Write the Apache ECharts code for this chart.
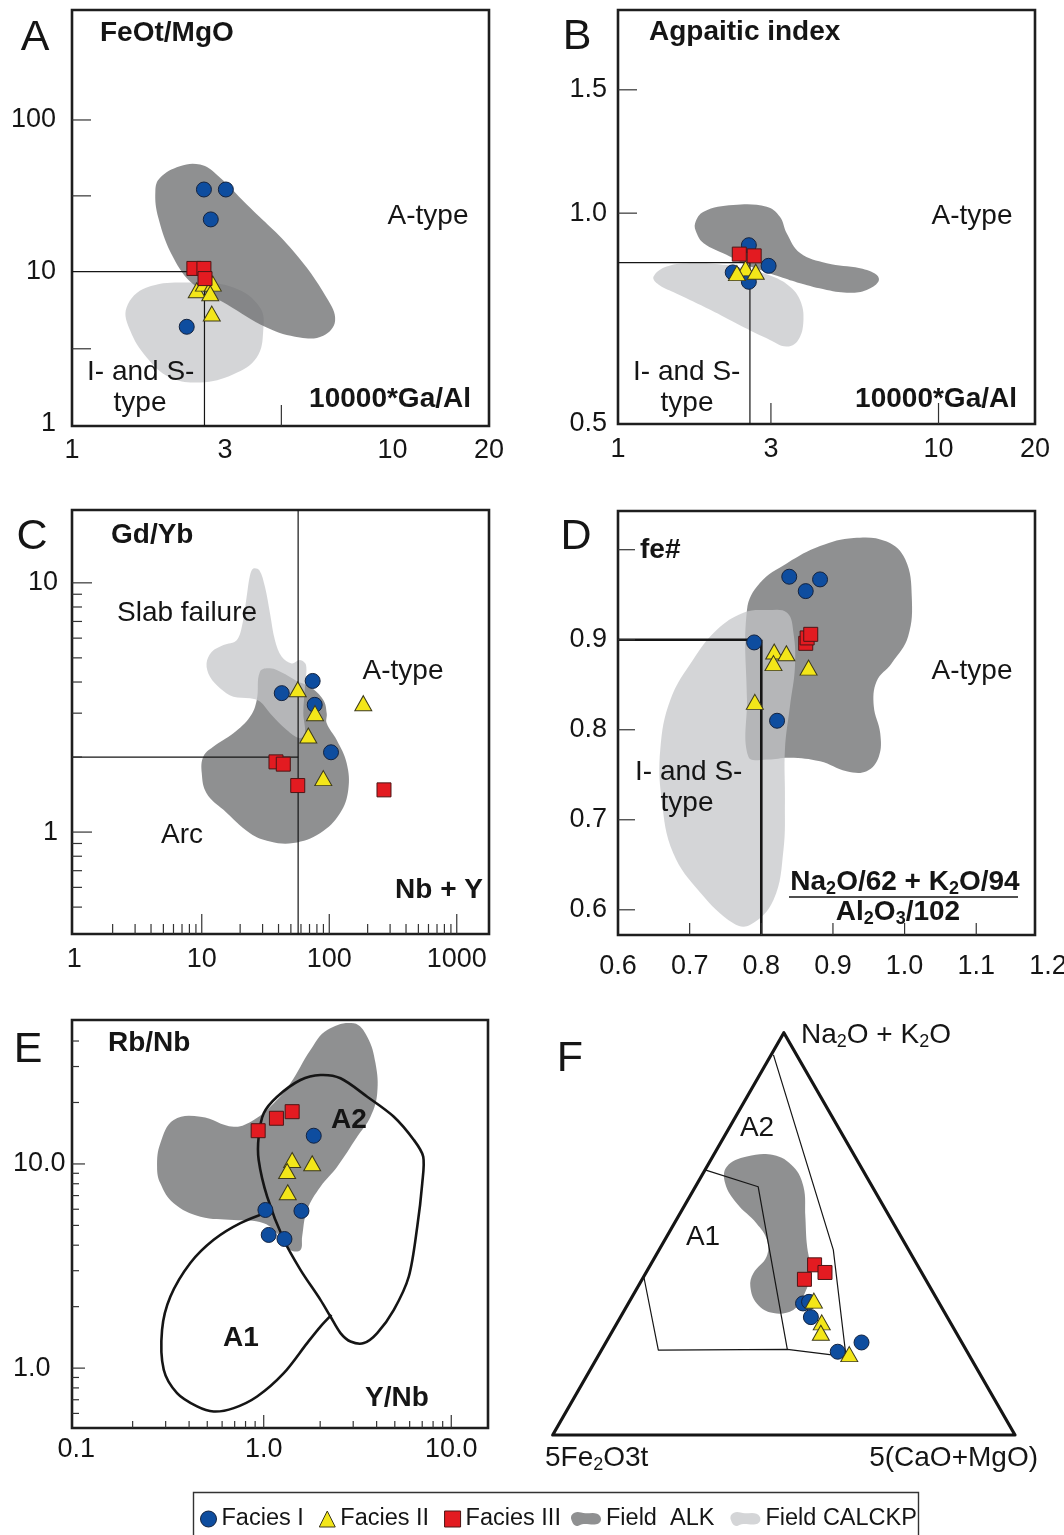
<!DOCTYPE html>
<html>
<head>
<meta charset="utf-8">
<title>A-type granite discrimination diagrams</title>
<script src="https://cdn.jsdelivr.net/npm/echarts@6.0.0/dist/echarts.min.js"></script>
<style>
  html, body { margin: 0; padding: 0; background: #ffffff; }
  #chart { width: 1064px; height: 1535px; }
</style>
</head>
<body>
<div id="chart"></div>
<script>
const FONT = '"Liberation Sans", Arial, Helvetica, sans-serif';
const INK = '#151515';
const DARK = 'rgba(108,109,111,0.76)';
const LIGHT = 'rgba(196,197,200,0.72)';

// ---------- A : FeOt/MgO vs 10000*Ga/Al ----------
const A_facies1 = [[2.58, 34.8], [3.02, 34.8], [2.71, 22.1], [2.28, 4.33]];
const A_facies2 = [[2.45, 7.53], [2.58, 8.34], [2.75, 8.34], [2.70, 7.2], [2.73, 5.29]];
const A_facies3 = [[2.40, 10.5], [2.58, 10.5], [2.60, 9.0]];
const A_alk = [[1.88, 41.5], [2.17, 49.6], [2.51, 50.8], [2.83, 43.6], [3.51, 27.7], [4.90, 13.7], [6.23, 6.74], [6.62, 4.74], [6.08, 3.78], [5.14, 3.68], [4.05, 4.28], [3.04, 6.09], [2.39, 8.25], [2.07, 12.4], [1.86, 22.6], [1.82, 34.0]];
const A_calc = [[1.48, 5.8], [1.71, 7.85], [2.39, 8.47], [3.19, 7.85], [3.86, 5.8], [3.95, 4.07], [3.77, 2.72], [3.19, 2.11], [2.51, 1.86], [2.02, 2.01], [1.71, 2.72], [1.52, 4.07]];
const A_limitH = [[1, 10], [2.59, 10]];
const A_limitV = [[2.59, 10], [2.59, 0.96]];
const A_xTicks = [4.5];
const A_yTicks = [3.1, 31.6, 100];
const A_xLabels = [1, 3, 10, 20];
const A_yLabels = [1, 10, 100];

// ---------- B : Agpaitic index vs 10000*Ga/Al ----------
const B_facies1 = [[2.56, 0.900], [2.95, 0.841], [2.28, 0.823], [2.56, 0.798]];
const B_facies2 = [[2.50, 0.834], [2.35, 0.821], [2.69, 0.825]];
const B_facies3 = [[2.39, 0.874], [2.66, 0.869]];
const B_alk = [[1.74, 0.967], [1.85, 1.005], [2.29, 1.027], [2.91, 1.021], [3.20, 0.988], [3.36, 0.936], [3.70, 0.877], [4.48, 0.848], [5.69, 0.834], [6.42, 0.816], [6.49, 0.798], [5.97, 0.777], [5.30, 0.770], [4.48, 0.777], [3.70, 0.794], [3.20, 0.811], [2.77, 0.830], [2.52, 0.843], [2.18, 0.872], [1.85, 0.906], [1.76, 0.936]];
const B_calc = [[1.29, 0.811], [1.42, 0.839], [1.72, 0.848], [2.18, 0.843], [2.58, 0.830], [3.05, 0.811], [3.44, 0.785], [3.70, 0.751], [3.79, 0.704], [3.65, 0.659], [3.36, 0.645], [2.91, 0.663], [2.40, 0.692], [1.94, 0.728], [1.52, 0.768], [1.34, 0.790]];
const B_limitH = [[1, 0.85], [2.58, 0.85]];
const B_limitV = [[2.58, 0.85], [2.58, 0.5]];
const B_xTicks = [3, 10];
const B_yTicks = [1.0, 1.5];
const B_xLabels = [1, 3, 10, 20];
const B_yLabels = [0.5, 1.0, 1.5];

// ---------- C : Gd/Yb vs Nb + Y ----------
const C_facies1 = [[42.4, 3.61], [74.1, 4.04], [76.9, 3.24], [103.2, 2.09]];
const C_facies2 = [[56.6, 3.74], [77.3, 3.00], [68.5, 2.44], [89.8, 1.646], [184.9, 3.29]];
const C_facies3 = [[38.2, 1.913], [43.6, 1.873], [56.6, 1.537], [268.7, 1.477]];
const C_alk = [[28.6, 4.40], [34.3, 4.54], [43.6, 4.34], [57.2, 4.01], [70.7, 3.83], [89.8, 3.39], [95.5, 3.00], [95.5, 2.73], [114.4, 2.34], [137, 1.89], [141, 1.477], [121.4, 1.19], [84.6, 0.99], [52.2, 0.904], [34.3, 0.917], [23.9, 0.99], [14.8, 1.228], [10.9, 1.433], [10.0, 1.724], [10.3, 2.01], [12.3, 2.20], [17.7, 2.49], [23.9, 2.90], [27.0, 3.39]];
const C_calc = [[25.4, 11.42], [28.3, 11.24], [31.3, 9.64], [34.3, 7.54], [37.5, 5.89], [42.4, 5.05], [50.7, 4.75], [58.9, 4.90], [65.7, 4.68], [64.5, 3.83], [62.6, 3.00], [64.5, 2.49], [58.9, 2.38], [46.4, 2.57], [34.3, 3.00], [28.6, 3.34], [23.9, 3.44], [17.7, 3.49], [13.9, 3.78], [11.6, 4.20], [10.9, 4.75], [12.0, 5.29], [14.8, 5.63], [18.8, 5.89], [20.9, 6.88], [22.5, 8.79], [23.9, 10.73]];
const C_limitV = [[57, 0.39], [57, 19.6]];
const C_limitH = [[0.96, 2.0], [57, 2.0]];
const C_xMajor = [10, 100, 1000];
const C_xMinor = [2, 3, 4, 5, 6, 7, 8, 9, 20, 30, 40, 50, 60, 70, 80, 90, 200, 300, 400, 500, 600, 700, 800, 900];
const C_yMajor = [1, 10];
const C_yMinor = [0.5, 0.6, 0.7, 0.8, 0.9, 2, 3, 4, 5, 6, 7, 8, 9];
const C_xLabels = [1, 10, 100, 1000];
const C_yLabels = [1, 10];

// ---------- D : fe# vs agpaitic ratio ----------
const D_facies1 = [[0.839, 0.970], [0.862, 0.954], [0.882, 0.967], [0.790, 0.897], [0.822, 0.810]];
const D_facies2 = [[0.818, 0.887], [0.835, 0.885], [0.817, 0.874], [0.866, 0.869], [0.791, 0.831]];
const D_facies3 = [[0.862, 0.896], [0.864, 0.902], [0.869, 0.906]];
const D_alk = [[0.780, 0.933], [0.798, 0.963], [0.836, 0.985], [0.882, 1.004], [0.929, 1.013], [0.975, 1.009], [1.001, 0.989], [1.010, 0.948], [1.005, 0.904], [0.982, 0.874], [0.961, 0.854], [0.957, 0.826], [0.966, 0.796], [0.964, 0.770], [0.947, 0.754], [0.919, 0.754], [0.882, 0.765], [0.840, 0.769], [0.808, 0.767], [0.782, 0.770], [0.780, 0.833]];
const D_calc = [[0.775, 0.930], [0.808, 0.933], [0.836, 0.930], [0.845, 0.907], [0.847, 0.870], [0.840, 0.826], [0.833, 0.778], [0.833, 0.722], [0.831, 0.667], [0.817, 0.611], [0.784, 0.583], [0.761, 0.585], [0.715, 0.619], [0.677, 0.663], [0.661, 0.722], [0.659, 0.778], [0.673, 0.833], [0.705, 0.878], [0.738, 0.911]];
const D_limitH = [[0.6, 0.9], [0.8, 0.9]];
const D_limitV = [[0.8, 0.9], [0.8, 0.572]];
const D_xTicks = [0.7, 0.8, 0.9, 1.0, 1.1];
const D_yTicks = [0.6, 0.7, 0.8, 0.9, 1.0];
const D_xLabels = [0.6, 0.7, 0.8, 0.9, 1.0, 1.1, 1.2];
const D_yLabels = [0.6, 0.7, 0.8, 0.9];

// ---------- E : Rb/Nb vs Y/Nb ----------
const E_facies1 = [[1.848, 13.75], [1.021, 5.95], [1.589, 5.89], [1.063, 4.49], [1.290, 4.29]];
const E_facies2 = [[1.418, 10.46], [1.333, 9.24], [1.813, 10.08], [1.343, 7.27]];
const E_facies3 = [[0.934, 14.55], [1.169, 16.74], [1.418, 18.03]];
const E_alk = [[0.270, 9.70], [0.281, 12.63], [0.331, 16.42], [0.460, 17.04], [0.692, 15.22], [0.884, 16.42], [1.131, 19.82], [1.388, 24.83], [1.775, 36.14], [2.179, 45.28], [3.021, 48.84], [3.563, 42.0], [3.946, 31.1], [4.029, 22.18], [3.710, 17.04], [3.150, 13.60], [2.465, 9.70], [2.007, 7.74], [1.704, 5.95], [1.603, 4.41], [1.570, 3.79], [1.388, 3.79], [1.228, 4.41], [1.000, 5.13], [0.692, 5.32], [0.460, 5.52], [0.331, 6.42], [0.281, 8.04]];
const E_A2 = [[0.940, 13.60], [1.0, 17.71], [1.179, 21.35], [1.570, 25.77], [2.007, 27.27], [2.567, 26.28], [3.563, 21.35], [4.941, 17.04], [6.318, 13.11], [7.089, 10.86], [7.003, 8.04], [6.587, 4.93], [5.938, 2.81], [4.941, 1.93], [4.029, 1.484], [3.418, 1.326], [2.902, 1.350], [2.567, 1.484], [2.269, 1.789], [2.007, 2.159], [1.570, 3.03], [1.279, 4.25], [1.043, 6.92], [0.940, 10.46]];
const E_A1 = [[1.10, 5.9], [0.751, 5.13], [0.541, 4.25], [0.406, 3.27], [0.318, 2.24], [0.287, 1.540], [0.293, 0.981], [0.345, 0.754], [0.441, 0.649], [0.541, 0.613], [0.692, 0.637], [0.922, 0.726], [1.279, 0.945], [1.704, 1.326], [2.007, 1.598], [2.297, 1.823]];
const E_xMajor = [1, 10];
const E_xMinor = [0.2, 0.3, 0.4, 0.5, 0.6, 0.7, 0.8, 0.9, 2, 3, 4, 5, 6, 7, 8, 9];
const E_yMajor = [1, 10];
const E_yMinor = [0.6, 0.7, 0.8, 0.9, 2, 3, 4, 5, 6, 7, 8, 9, 20, 30, 40];
const E_xLabels = [0.1, 1, 10];
const E_yLabels = [1, 10];

// ---------- F : ternary, [Na2O+K2O, 5(CaO+MgO), 5Fe2O3t] in % ----------
const F_facies1 = [[32.7, 37.8, 29.5], [33.1, 38.9, 28.0], [29.3, 41.2, 29.5], [20.7, 51.3, 28.0], [23.0, 55.3, 21.7]];
const F_facies2 = [[33.4, 39.8, 26.8], [28.0, 44.2, 27.8], [25.4, 45.3, 29.3], [20.1, 54.1, 25.8]];
const F_facies3 = [[42.3, 35.5, 22.2], [40.4, 38.7, 20.9], [38.7, 35.1, 26.2]];
const F_alk = [[66.7, 4.3, 29.0], [69.2, 7.4, 23.4], [69.6, 12.9, 17.5], [66.7, 18.7, 14.6], [61.7, 23.4, 14.9], [54.3, 27.5, 18.2], [47.7, 31.1, 21.2], [40.2, 35.6, 24.2], [34.4, 37.0, 28.6], [31.1, 36.5, 32.4], [30.3, 32.6, 37.1], [32.7, 27.8, 39.5], [36.9, 24.3, 38.8], [40.2, 23.3, 36.5], [44.3, 24.1, 31.6], [48.5, 22.1, 29.4], [52.6, 17.8, 29.6], [57.6, 11.0, 31.4], [62.6, 6.0, 31.4]];
const F_frame = [[100, 0, 0], [0, 0, 100], [0, 100, 0]];
const F_boundary = [[94.5, 0.5, 5.0], [46.0, 37.7, 16.3], [19.5, 53.7, 26.8], [21.3, 40.1, 38.6], [21.1, 12.3, 66.6], [39.4, 0, 60.6]];
const F_divider = [[65.9, 0, 34.1], [61.7, 13.6, 24.7], [21.3, 40.1, 38.6]];

// ternary composition -> cartesian (x across the base, y = apex fraction)
function tern(p) {
  const s = p[0] + p[1] + p[2];
  const a = p[0] / s, c = p[1] / s;
  return [c + a / 2, a];
}

// ---------- scales for the six panels ----------
const GRIDS = [
  { left: 72, top: 10, width: 417, height: 416 },
  { left: 618, top: 10, width: 417, height: 414 },
  { left: 72, top: 510, width: 417, height: 424 },
  { left: 618, top: 511, width: 417, height: 424 },
  { left: 72, top: 1020, width: 416, height: 408 },
  { left: 552.7, top: 1032.7, width: 462.3, height: 402.3 }
];
const XAX = [
  { type: 'log', min: 1, max: 20 },
  { type: 'log', min: 1, max: 20 },
  { type: 'log', min: 0.96, max: 1790 },
  { type: 'value', min: 0.6, max: 1.182 },
  { type: 'log', min: 0.095, max: 15.7 },
  { type: 'value', min: 0, max: 1 }
];
const YAX = [
  { type: 'log', min: 0.96, max: 531 },
  { type: 'log', min: 0.5, max: 1.95 },
  { type: 'log', min: 0.39, max: 19.6 },
  { type: 'value', min: 0.572, max: 1.043 },
  { type: 'log', min: 0.509, max: 50.7 },
  { type: 'value', min: 0, max: 1 }
];

function font(size, bold) { return (bold ? 'bold ' : '') + size + 'px ' + FONT; }
function tStyle(text, size, bold, align) {
  return { text: text, font: font(size, bold), fill: INK,
    align: align, textAlign: align, verticalAlign: 'middle', textVerticalAlign: 'middle' };
}

// ---------- series builders ----------
function areaSeries(name, gi, pts, fill, z, smooth) {
  return {
    type: 'custom', name: name, xAxisIndex: gi, yAxisIndex: gi, z: z, silent: true,
    itemStyle: { color: fill }, data: [pts[0]],
    renderItem: function (params, api) {
      return { type: 'polygon',
        shape: { points: pts.map(function (p) { return api.coord(p); }), smooth: smooth },
        style: { fill: fill, stroke: 'none' } };
    }
  };
}
function pathSeries(gi, pts, width, closed, smooth, z) {
  return {
    type: 'custom', xAxisIndex: gi, yAxisIndex: gi, z: z || 3, silent: true, data: [pts[0]],
    renderItem: function (params, api) {
      return { type: closed ? 'polygon' : 'polyline',
        shape: { points: pts.map(function (p) { return api.coord(p); }), smooth: smooth || 0 },
        style: { fill: 'none', stroke: INK, lineWidth: width, lineJoin: 'round', lineCap: 'butt' } };
    }
  };
}
function tickSeries(gi, axis, vals, len) {
  const xr = XAX[gi].min, yr = YAX[gi].min;
  return {
    type: 'custom', xAxisIndex: gi, yAxisIndex: gi, z: 4, silent: true,
    data: vals.map(function (v) { return axis === 'x' ? [v, yr] : [xr, v]; }),
    renderItem: function (params, api) {
      const cs = params.coordSys;
      if (axis === 'x') {
        const x = api.coord([api.value(0), yr])[0];
        const y0 = cs.y + cs.height;
        return { type: 'line', shape: { x1: x, y1: y0, x2: x, y2: y0 - len }, style: { stroke: '#333', lineWidth: 1.2 } };
      }
      const y = api.coord([xr, api.value(1)])[1];
      return { type: 'line', shape: { x1: cs.x, y1: y, x2: cs.x + len, y2: y }, style: { stroke: '#333', lineWidth: 1.2 } };
    }
  };
}
function labelSeries(gi, axis, vals, texts, off, align) {
  const xr = XAX[gi].min, yr = YAX[gi].min;
  return {
    type: 'custom', xAxisIndex: gi, yAxisIndex: gi, z: 6, silent: true,
    data: vals.map(function (v) { return axis === 'x' ? [v, yr] : [xr, v]; }),
    renderItem: function (params, api) {
      const cs = params.coordSys;
      const txt = texts[params.dataIndex];
      if (axis === 'x') {
        const x = api.coord([api.value(0), yr])[0];
        return { type: 'text', x: x, y: cs.y + cs.height + off, style: tStyle(txt, 27, false, 'center') };
      }
      const y = api.coord([xr, api.value(1)])[1];
      const x = align === 'left' ? off : cs.x - off;
      return { type: 'text', x: x, y: y, style: tStyle(txt, 27, false, align || 'right') };
    }
  };
}

const FACIES = [
  { name: 'Facies I', symbol: 'circle', size: 15, color: '#0e4d9f', border: '#14233f' },
  { name: 'Facies II', symbol: 'triangle', size: [17, 15], color: '#f3e619', border: '#3d3a1c' },
  { name: 'Facies III', symbol: 'rect', size: 14, color: '#e31b21', border: '#4d1616' }
];
function scatterSeries(gi, k, data) {
  const f = FACIES[k];
  return {
    type: 'scatter', name: f.name, xAxisIndex: gi, yAxisIndex: gi, data: data,
    symbol: f.symbol, symbolSize: f.size, z: 5, silent: true,
    itemStyle: { color: f.color, borderColor: f.border, borderWidth: 1, opacity: 1 },
    emphasis: { disabled: true }
  };
}
function facies(gi, s1, s2, s3) {
  return [scatterSeries(gi, 0, s1), scatterSeries(gi, 1, s2), scatterSeries(gi, 2, s3)];
}
const ALK = 'Field  ALK', CALC = 'Field CALCKP';
const fmt1 = function (v) { return v.toFixed(1); };
const plain = function (v) { return String(v); };

const series = [].concat(
  // A
  [areaSeries(CALC, 0, A_calc, LIGHT, 1, 0.4), areaSeries(ALK, 0, A_alk, DARK, 2, 0.4),
   pathSeries(0, A_limitH, 1.2), pathSeries(0, A_limitV, 1.2),
   tickSeries(0, 'x', A_xTicks, 21), tickSeries(0, 'y', A_yTicks, 19),
   labelSeries(0, 'x', A_xLabels, A_xLabels.map(plain), 25), labelSeries(0, 'y', A_yLabels, A_yLabels.map(plain), 16)],
  facies(0, A_facies1, A_facies2, A_facies3),
  // B
  [areaSeries(CALC, 1, B_calc, LIGHT, 1, 0.4), areaSeries(ALK, 1, B_alk, DARK, 2, 0.4),
   pathSeries(1, B_limitH, 1.2), pathSeries(1, B_limitV, 1.2),
   tickSeries(1, 'x', B_xTicks, 21), tickSeries(1, 'y', B_yTicks, 19),
   labelSeries(1, 'x', B_xLabels, B_xLabels.map(plain), 26), labelSeries(1, 'y', B_yLabels, B_yLabels.map(fmt1), 11)],
  facies(1, B_facies1, B_facies2, B_facies3),
  // C
  [areaSeries(ALK, 2, C_alk, DARK, 1, 0.4), areaSeries(CALC, 2, C_calc, LIGHT, 2, 0.35),
   pathSeries(2, C_limitV, 1.2), pathSeries(2, C_limitH, 1.2),
   tickSeries(2, 'x', C_xMajor, 20), tickSeries(2, 'x', C_xMinor, 10),
   tickSeries(2, 'y', C_yMajor, 20), tickSeries(2, 'y', C_yMinor, 10),
   labelSeries(2, 'x', C_xLabels, C_xLabels.map(plain), 26), labelSeries(2, 'y', C_yLabels, C_yLabels.map(plain), 14)],
  facies(2, C_facies1, C_facies2, C_facies3),
  // D
  [areaSeries(ALK, 3, D_alk, DARK, 1, 0.4), areaSeries(CALC, 3, D_calc, LIGHT, 2, 0.4),
   pathSeries(3, D_limitH, 2.6), pathSeries(3, D_limitV, 2.6),
   tickSeries(3, 'x', D_xTicks, 12), tickSeries(3, 'y', D_yTicks, 17),
   labelSeries(3, 'x', D_xLabels, D_xLabels.map(fmt1), 32), labelSeries(3, 'y', D_yLabels, D_yLabels.map(fmt1), 11)],
  facies(3, D_facies1, D_facies2, D_facies3),
  // E
  [areaSeries(ALK, 4, E_alk, DARK, 1, 0.4),
   pathSeries(4, E_A2, 2.6, true, 0.3), pathSeries(4, E_A1, 2.6, false, 0.3),
   tickSeries(4, 'x', E_xMajor, 13), tickSeries(4, 'x', E_xMinor, 7),
   tickSeries(4, 'y', E_yMajor, 13), tickSeries(4, 'y', E_yMinor, 7),
   labelSeries(4, 'x', E_xLabels, ['0.1', '1.0', '10.0'], 22), labelSeries(4, 'y', E_yLabels, ['1.0', '10.0'], 13, 'left')],
  facies(4, E_facies1, E_facies2, E_facies3),
  // F
  [areaSeries(ALK, 5, F_alk.map(tern), DARK, 1, 0.4),
   pathSeries(5, F_frame.map(tern), 3.2, true, 0, 3),
   pathSeries(5, F_boundary.map(tern), 1.2, false, 0, 3),
   pathSeries(5, F_divider.map(tern), 1.2, false, 0, 3)],
  facies(5, F_facies1.map(tern), F_facies2.map(tern), F_facies3.map(tern))
);

// ---------- free text ----------
function T(x, y, text, size, bold, align) {
  return { type: 'text', x: x, y: y, silent: true, z: 100, style: tStyle(text, size || 28, bold, align || 'left') };
}
function R(x, y, text, bold, align) {
  const st = tStyle(text, 28, bold, align || 'left');
  st.rich = {
    n: { font: font(28, bold), verticalAlign: 'middle' },
    s: { font: font(18, bold), verticalAlign: 'middle', padding: [15, 0, 0, 0] }
  };
  return { type: 'text', x: x, y: y, silent: true, z: 100, style: st };
}
const graphics = [
  T(35, 38, 'A', 43, false, 'center'), T(100, 33, 'FeOt/MgO', 28, true), T(428, 216, 'A-type', 28, false, 'center'),
  T(87, 372, 'I- and S-'), T(140, 403, 'type', 28, false, 'center'), T(471, 399, '10000*Ga/Al', 28, true, 'right'),

  T(577, 37, 'B', 43, false, 'center'), T(649, 32, 'Agpaitic index', 28, true), T(972, 216, 'A-type', 28, false, 'center'),
  T(633, 372, 'I- and S-'), T(687, 403, 'type', 28, false, 'center'), T(1017, 399, '10000*Ga/Al', 28, true, 'right'),

  T(32, 537, 'C', 43, false, 'center'), T(111, 535, 'Gd/Yb', 28, true), T(117, 613, 'Slab failure'),
  T(403, 671, 'A-type', 28, false, 'center'), T(182, 835, 'Arc', 28, false, 'center'), T(483, 890, 'Nb + Y', 28, true, 'right'),

  T(576, 537, 'D', 43, false, 'center'), T(640, 550, 'fe#', 28, true), T(972, 671, 'A-type', 28, false, 'center'),
  T(635, 772, 'I- and S-'), T(687, 803, 'type', 28, false, 'center'),
  R(905, 882, '{n|Na}{s|2}{n|O/62 + K}{s|2}{n|O/94}', true, 'center'),
  { type: 'line', silent: true, z: 100, shape: { x1: 789, y1: 897, x2: 1018, y2: 897 }, style: { stroke: INK, lineWidth: 1.4 } },
  R(898, 912, '{n|Al}{s|2}{n|O}{s|3}{n|/102}', true, 'center'),

  T(28, 1050, 'E', 43, false, 'center'), T(108, 1043, 'Rb/Nb', 28, true), T(349, 1120, 'A2', 28, true, 'center'),
  T(241, 1338, 'A1', 28, true, 'center'), T(397, 1398, 'Y/Nb', 28, true, 'center'),

  T(570, 1059, 'F', 43, false, 'center'), R(801, 1035, '{n|Na}{s|2}{n|O + K}{s|2}{n|O}', false, 'left'),
  T(757, 1128, 'A2', 28, false, 'center'), T(703, 1237, 'A1', 28, false, 'center'),
  R(545, 1458, '{n|5Fe}{s|2}{n|O3t}', false, 'left'), T(1038, 1458, '5(CaO+MgO)', 28, false, 'right'),

  // frame round the legend
  { type: 'rect', silent: true, z: 90, shape: { x: 193.5, y: 1492.5, width: 725, height: 60 },
    style: { fill: 'none', stroke: '#333', lineWidth: 1.4 } }
];

const BLOB = 'path://M2,9C0,4 5,0 11,2C16,4 21,1 26,3C31,5 31,12 25,13C19,14 15,11 9,14C5,16 3,12 2,9Z';
const LEGEND_TEXT = { fontSize: 23.5, fontFamily: FONT, color: INK };

const chart = echarts.init(document.getElementById('chart'), null, { renderer: 'canvas' });
chart.setOption({
  animation: false,
  backgroundColor: '#ffffff',
  grid: GRIDS.map(function (g, i) {
    return Object.assign({ show: i < 5, borderColor: '#1e1e1e', borderWidth: 2.6, backgroundColor: 'transparent', containLabel: false }, g);
  }),
  xAxis: XAX.map(function (a, i) {
    return { gridIndex: i, type: a.type, logBase: 10, min: a.min, max: a.max, show: false };
  }),
  yAxis: YAX.map(function (a, i) {
    return { gridIndex: i, type: a.type, logBase: 10, min: a.min, max: a.max, show: false };
  }),
  legend: [
    {
      left: 200, top: 1507, orient: 'horizontal', selectedMode: false, padding: 0,
      itemWidth: 16, itemHeight: 16, itemGap: 15, textStyle: LEGEND_TEXT,
      data: [
        { name: 'Facies I', icon: 'circle', itemStyle: { borderColor: '#14233f', borderWidth: 1 } },
        { name: 'Facies II', icon: 'triangle', itemStyle: { borderColor: '#3d3a1c', borderWidth: 1 } },
        { name: 'Facies III', icon: 'rect', itemStyle: { borderColor: '#4d1616', borderWidth: 1 } }
      ]
    },
    {
      left: 571, top: 1507, orient: 'horizontal', selectedMode: false, padding: 0,
      itemWidth: 30, itemHeight: 17, itemGap: 16, textStyle: LEGEND_TEXT,
      data: [{ name: ALK, icon: BLOB }, { name: CALC, icon: BLOB }]
    }
  ],
  graphic: { elements: graphics },
  series: series
});
</script>
</body>
</html>
